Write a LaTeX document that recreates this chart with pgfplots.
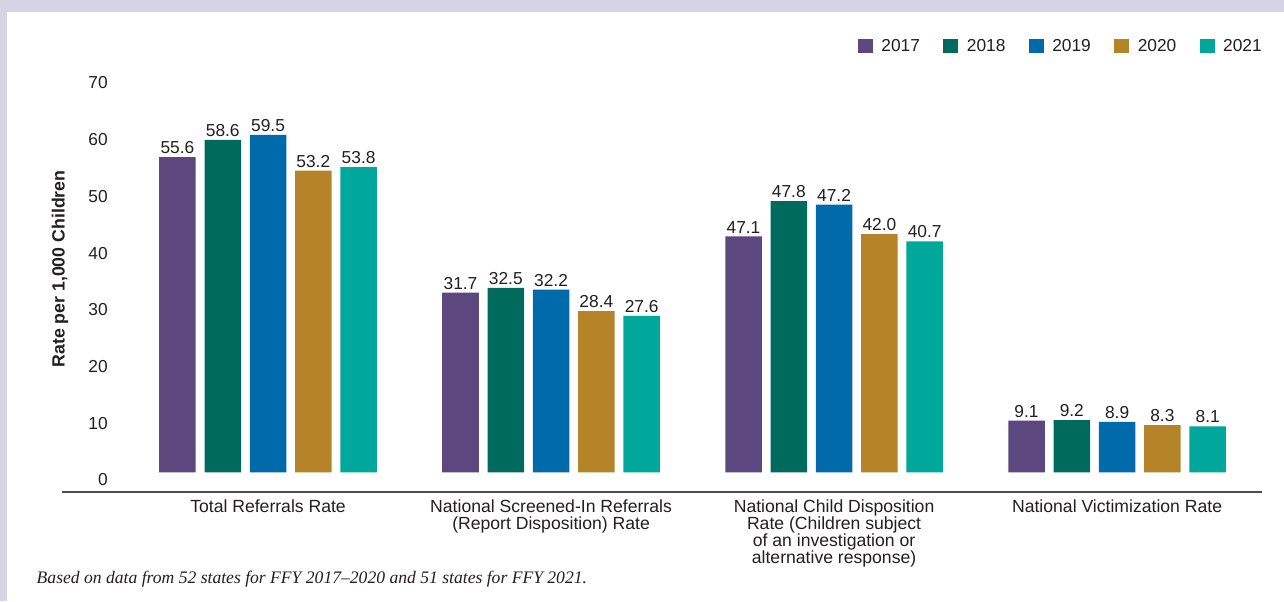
\documentclass[border=0pt]{standalone}
\usepackage{fontspec}
\setmainfont{Liberation Sans}
\newfontfamily\notefont{Liberation Serif}
\usepackage{pgfplots}
\pgfplotsset{compat=1.18}
\usepackage{pgfplotstable}
\definecolor{c17}{RGB}{92,72,126}
\definecolor{c18}{RGB}{0,106,92}
\definecolor{c19}{RGB}{0,106,170}
\definecolor{c20}{RGB}{181,132,40}
\definecolor{c21}{RGB}{0,168,155}
\definecolor{framec}{RGB}{214,211,228}
\definecolor{txt}{RGB}{35,31,32}
\newcommand\f{\fontsize{13}{15.6}\selectfont}

\pgfplotstableread{
x y lab
-0.32 55.6 55.6
0.68 31.7 31.7
1.68 41.6 47.1
2.68 9.1 9.1
}\tA
\pgfplotstableread{
x y lab
-0.16 58.6 58.6
0.84 32.5 32.5
1.84 47.8 47.8
2.84 9.2 9.2
}\tB
\pgfplotstableread{
x y lab
0.00 59.5 59.5
1.00 32.2 32.2
2.00 47.2 47.2
3.00 8.9 8.9
}\tC
\pgfplotstableread{
x y lab
0.16 53.2 53.2
1.16 28.4 28.4
2.16 42.0 42.0
3.16 8.3 8.3
}\tD
\pgfplotstableread{
x y lab
0.32 53.8 53.8
1.32 27.6 27.6
2.32 40.7 40.7
3.32 8.1 8.1
}\tE

\begin{document}
\begin{tikzpicture}
\useasboundingbox (0,0) rectangle (963pt,-450.75pt);
\fill[framec] (0,0) rectangle (963pt,-450.75pt);
\fill[white] (5.5pt,-9pt) rectangle (963pt,-450.75pt);
\begin{axis}[
  at={(46.5pt,-369pt)}, anchor=south west,
  scale only axis, width=900pt, height=321pt,
  xmin=-0.728, xmax=3.512, ymin=-3.48, ymax=72,
  axis x line*=bottom, axis y line*=left,
  y axis line style={draw=none},
  x axis line style={-, draw=black!70, line width=1pt},
  major tick length=0pt,
  xtick={0,1,2,3},
  xticklabels={Total Referrals Rate,
    {National Screened-In Referrals\\(Report Disposition) Rate},
    {National Child Disposition\\Rate (Children subject\\of an investigation or\\alternative response)},
    National Victimization Rate},
  xticklabel style={font=\fontsize{13.2}{12.9}\selectfont, text=txt, align=center, anchor=north, inner sep=0pt, yshift=-5.5pt},
  ytick={0,10,...,70},
  /pgf/number format/assume math mode=true,
  yticklabel style={font=\f, text=txt, anchor=east, inner sep=0pt, xshift=34.5pt, yshift=-5.75pt},
  ylabel={Rate per 1,000 Children},
  every axis y label/.style={at={(rel axis cs:0,0.5)}, rotate=90, anchor=center, font=\fontsize{13.3}{15}\selectfont\bfseries, text=txt, xshift=6.75pt, yshift=1.5pt},
  ybar, bar width=0.129, bar shift=0pt,
  nodes near coords, point meta=explicit symbolic,
  nodes near coords style={font=\f, text=txt, inner sep=0pt, anchor=south, yshift=2.3pt},
  legend columns=5,
  legend style={at={(rel axis cs:1,1)}, anchor=east, xshift=2pt, yshift=13.5pt, draw=none, fill=none, inner sep=0pt, font=\f, text=txt,
    /tikz/every odd column/.append style={column sep=4.5pt},
    /tikz/every even column/.append style={column sep=15.4pt}},
  legend image code/.code={\fill[#1] (0pt,-5.6pt) rectangle (11.25pt,5.6pt);},
]
\addplot[fill=c17, draw=none] table[x=x,y=y,meta=lab]{\tA};
\addplot[fill=c18, draw=none] table[x=x,y=y,meta=lab]{\tB};
\addplot[fill=c19, draw=none] table[x=x,y=y,meta=lab]{\tC};
\addplot[fill=c20, draw=none] table[x=x,y=y,meta=lab]{\tD};
\addplot[fill=c21, draw=none] table[x=x,y=y,meta=lab]{\tE};
\legend{2017,2018,2019,2020,2021}
\end{axis}
\node[anchor=base west, font=\notefont\itshape\fontsize{13.2}{15}\selectfont, text=txt] at (24pt,-437.25pt) {Based on data from 52 states for FFY 2017–2020 and 51 states for FFY 2021.};
\end{tikzpicture}
\end{document}
